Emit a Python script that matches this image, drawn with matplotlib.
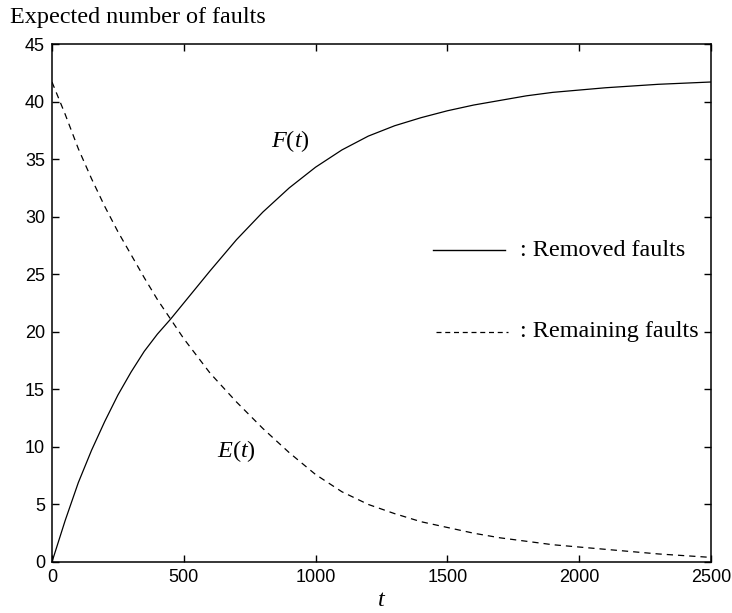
import matplotlib
matplotlib.use("Agg")
import matplotlib.pyplot as plt

plt.rcParams['mathtext.fontset'] = 'custom'
plt.rcParams['mathtext.rm'] = 'Liberation Serif'
plt.rcParams['mathtext.it'] = 'Liberation Serif:italic'

# Expected number of removed faults F(t) and remaining faults E(t)
t = [0, 50, 100, 150, 200, 250, 300, 350, 400, 450, 500, 600, 700, 800, 900,
     1000, 1100, 1200, 1300, 1400, 1500, 1600, 1700, 1800, 1900, 2000,
     2100, 2200, 2300, 2400, 2500]
removed = [0.0, 3.6, 6.9, 9.7, 12.2, 14.5, 16.5, 18.3, 19.8, 21.1, 22.5, 25.3,
           28.0, 30.4, 32.5, 34.3, 35.8, 37.0, 37.9, 38.6, 39.2, 39.7, 40.1,
           40.5, 40.8, 41.0, 41.2, 41.35, 41.5, 41.6, 41.7]
remaining = [41.7, 38.9, 35.9, 33.3, 30.9, 28.7, 26.7, 24.7, 22.8, 21.1, 19.4,
             16.4, 13.9, 11.6, 9.5, 7.6, 6.1, 5.0, 4.2, 3.5, 3.0, 2.5, 2.1,
             1.8, 1.5, 1.3, 1.1, 0.9, 0.7, 0.55, 0.4]

xticks = [0, 500, 1000, 1500, 2000, 2500]
yticks = list(range(0, 46, 5))

fig = plt.figure(figsize=(7.32, 6.13), dpi=100)
ax = fig.add_axes([0.0710, 0.0832, 0.9003, 0.8450])

ax.plot(t, removed, color='black', lw=0.9)
ax.plot(t, remaining, color='black', lw=0.9, linestyle=(0, (5, 4)))

ax.set_xlim(0, 2500)
ax.set_ylim(0, 45)
ax.set_xticks(xticks)
ax.set_yticks(yticks)
ax.tick_params(direction='in', length=5, width=1, top=True, right=True,
               labelsize=13, pad=5)
for lbl in ax.get_xticklabels() + ax.get_yticklabels():
    lbl.set_fontfamily('Liberation Sans')
for s in ax.spines.values():
    s.set_linewidth(1.1)

serif = 'Liberation Serif'
ax.set_xlabel(r'$t$', fontsize=17.5, labelpad=1)
fig.text(0.014, 0.972, 'Expected number of faults', family=serif,
         fontsize=17.4, va='center', ha='left')

# curve labels
ax.text(905, 36.6, r'$F(t)$', fontsize=17.5, ha='center', va='center')
ax.text(700, 9.6, r'$E(t)$', fontsize=17.5, ha='center', va='center')

# hand-drawn legend
ax.plot([1445, 1720], [27.1, 27.1], color='black', lw=1.0)
ax.text(1775, 27.1, ': Removed faults', family=serif, fontsize=17.4,
        va='center', ha='left')
ax.plot([1455, 1730], [20.0, 20.0], color='black', lw=0.9,
        linestyle=(0, (4, 3)))
ax.text(1775, 20.0, ': Remaining faults', family=serif, fontsize=17.4,
        va='center', ha='left')

fig.savefig('out.png', dpi=100)
